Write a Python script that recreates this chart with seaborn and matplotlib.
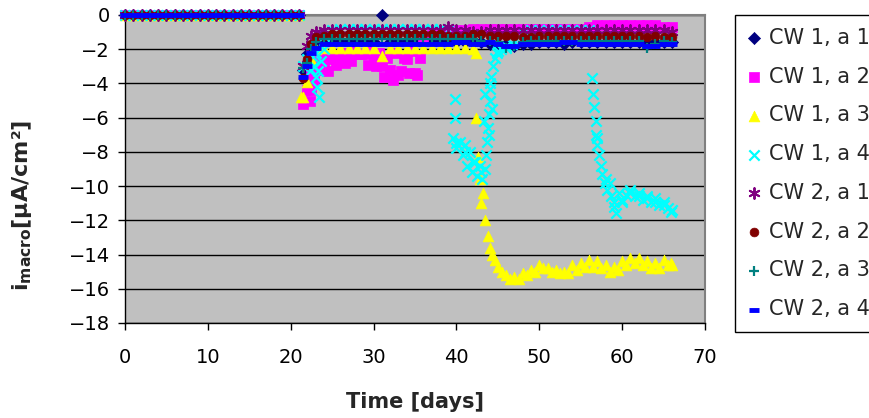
import matplotlib
matplotlib.use("Agg")
import matplotlib.pyplot as plt
import pandas as pd
import seaborn as sns


# Measurement grid (days) - before day 21.5 every cell read 0
baseline_days = list(range(0, 22))
baseline_vals = [0.0, 0.0, 0.0, 0.0, 0.0, 0.0, 0.0, 0.0, 0.0, 0.0, 0.0,
                 0.0, 0.0, 0.0, 0.0, 0.0, 0.0, 0.0, 0.0, 0.0, 0.0, 0.0]
days = [21.5, 22, 22.5] + list(range(23, 67))

# macrocell current density [uA/cm2] on the grid above
cw1_a1 = [-3.2, -2.3, -1.9, -1.7, -1.6, -1.6, -1.5, -1.6, -1.6, -1.5,
          -1.6, 0.0, -1.6, -1.6, -1.5, -1.6, -1.6, -1.6, -1.5, -1.6,
          -1.6, -1.6, -1.6, -1.6, -1.7, -1.7, -1.7, -1.8, -1.7, -1.7,
          -1.6, -1.6, -1.6, -1.7, -1.6, -1.6, -1.6, -1.6, -1.6, -1.6,
          -1.6, -1.6, -1.6, -1.7, -1.6, -1.6, -1.6]
cw1_a2 = [-5.2, -4.4, -3.4, -2.6, -2.9, -2.6, -2.4, -2.5, -2.3, -2.3,
          -2.6, -3.0, -3.2, -3.5, -2.6, -3.4, -1.3, -1.1, -1.0, -0.9,
          -0.9, -0.9, -0.8, -0.8, -0.8, -0.8, -0.8, -0.8, -0.8, -0.8,
          -0.8, -0.8, -0.8, -0.8, -0.8, -0.8, -0.7, -0.6, -0.6, -0.6,
          -0.6, -0.6, -0.6, -0.6, -0.6, -0.7, -0.7]
cw1_a3 = [-4.8, -3.9, -2.6, -2.0, -1.9, -1.9, -1.9, -1.9, -1.9, -1.9,
          -1.9, -2.4, -1.9, -1.9, -1.9, -1.9, -1.9, -1.9, -1.9, -1.9,
          -1.9, -1.9, -2.0, -11.0, -13.6, -14.7, -15.2, -15.3, -15.1, -14.9,
          -14.6, -14.8, -14.9, -15.0, -14.6, -14.5, -14.3, -14.4, -14.6, -14.7,
          -14.4, -14.2, -14.2, -14.4, -14.5, -14.3, -14.6]
cw1_a4 = [-3.0, -2.6, -3.2, -2.2, -1.2, -0.9, -0.8, -0.8, -0.8, -0.8,
          -0.8, -0.8, -0.8, -0.8, -0.8, -0.8, -0.8, -0.8, -0.8, -0.9,
          -7.5, -8.0, -8.6, -9.2, -4.0, -2.1, -1.8, -1.5, -1.0, -0.9,
          -0.9, -0.9, -0.9, -0.9, -0.9, -0.9, -0.9, -7.2, -9.6, -10.9,
          -10.8, -10.4, -10.6, -10.7, -10.9, -11.1, -11.4]
cw2_a1 = [-3.0, -1.8, -1.2, -1.0, -0.9, -0.9, -0.9, -0.9, -0.9, -0.9,
          -0.9, -0.9, -0.9, -0.9, -0.9, -0.9, -0.9, -0.9, -0.9, -0.7,
          -0.9, -0.9, -1.0, -1.0, -0.9, -0.9, -0.9, -0.9, -0.9, -0.9,
          -0.9, -0.9, -0.9, -0.9, -0.9, -0.9, -0.9, -0.9, -0.9, -0.9,
          -0.9, -0.9, -0.9, -0.9, -0.9, -0.9, -1.0]
cw2_a2 = [-3.7, -2.6, -1.7, -1.3, -1.2, -1.1, -1.1, -1.1, -1.1, -1.1,
          -1.1, -1.1, -1.1, -1.1, -1.1, -1.1, -1.1, -1.1, -1.1, -1.2,
          -1.2, -1.2, -1.1, -1.1, -1.2, -1.2, -1.2, -1.2, -1.3, -1.3,
          -1.2, -1.2, -1.2, -1.2, -1.2, -1.2, -1.2, -1.2, -1.2, -1.2,
          -1.2, -1.2, -1.2, -1.3, -1.2, -1.3, -1.3]
cw2_a3 = [-3.1, -2.8, -2.0, -1.6, -1.4, -1.4, -1.4, -1.4, -1.4, -1.4,
          -1.4, -1.4, -1.4, -1.4, -1.4, -1.4, -1.4, -1.4, -1.4, -1.4,
          -1.4, -1.4, -1.4, -1.5, -1.5, -1.6, -1.9, -1.8, -1.6, -1.5,
          -1.5, -1.5, -1.5, -1.5, -1.5, -1.5, -1.5, -1.5, -1.5, -1.5,
          -1.5, -1.5, -1.5, -1.9, -1.7, -1.5, -1.6]
cw2_a4 = [-3.6, -3.0, -2.2, -1.9, -1.7, -1.7, -1.7, -1.7, -1.7, -1.7,
          -1.7, -1.7, -1.7, -1.7, -1.7, -1.7, -1.7, -1.7, -1.7, -1.7,
          -1.6, -1.6, -1.7, -1.7, -1.6, -1.7, -1.8, -1.8, -1.7, -1.7,
          -1.7, -1.7, -1.7, -1.6, -1.6, -1.7, -1.7, -1.7, -1.7, -1.7,
          -1.7, -1.7, -1.7, -1.8, -1.8, -1.7, -1.7]

# extra readings where the sensors were measured more often
cw1_a2_xdays = [22.3, 22.5, 22.8, 23.3, 23.5, 24.5, 24.8, 25.5, 26.2, 26.5,
                27.3, 27.6, 28.5, 29.3, 29.6, 30.3, 30.7, 31.3, 31.6, 32.3,
                32.6, 33.3, 33.7, 34.3, 34.6, 35.3, 35.6]
cw1_a2_xvals = [-5.0, -4.4, -3.8, -3.2, -2.4, -3.3, -2.5, -2.9, -2.2, -2.8,
                -2.7, -2.1, -2.3, -2.9, -2.1, -3.0, -2.2, -3.6, -2.5, -3.8,
                -2.2, -3.3, -2.5, -3.4, -2.1, -3.5, -2.5]
cw1_a3_xdays = [21.3, 42.4, 42.4, 42.6, 42.8, 43.2, 43.5, 43.8, 44.3, 44.6,
                45.5, 46.5, 47.5, 48.5, 49.5, 50.5, 51.5, 52.5, 53.5, 54.5,
                55.5, 56.5, 57.5, 58.5, 59.5, 60.5, 61.5, 62.5, 63.5, 64.5,
                65.5, 65.9]
cw1_a3_xvals = [-4.8, -2.2, -6.0, -8.3, -9.6, -10.4, -12.0, -12.9, -14.0, -14.3,
                -15.0, -15.4, -15.4, -15.2, -15.0, -14.8, -15.0, -15.1, -15.1, -14.9,
                -14.7, -14.7, -14.8, -15.0, -14.9, -14.6, -14.5, -14.6, -14.8, -14.8,
                -14.6, -14.5]
cw1_a4_xdays = [22.6, 22.8, 23.0, 23.2, 23.4, 23.3, 23.6, 24.0,
                39.8, 39.8, 39.6, 40.0, 40.4, 40.8, 41.0, 41.3, 41.6, 41.9,
                42.2, 42.5, 42.8, 43.1, 43.4, 43.6, 43.7, 43.8, 43.9, 44.0,
                44.1, 44.2, 44.4, 44.6, 44.9, 45.4, 46.0, 46.7, 43.3, 43.5,
                43.9, 44.3,
                56.4, 56.5, 56.6, 56.8, 56.9, 57.0, 57.2, 57.4, 57.6, 57.9,
                58.2, 58.5, 58.7, 59.0, 59.3, 59.6, 60.0, 60.5, 61.0, 61.5,
                62.0, 62.5, 63.0, 63.5, 64.0, 64.5, 65.0, 65.5, 65.9]
cw1_a4_xvals = [-2.4, -3.0, -3.6, -4.2, -4.8, -3.3, -2.7, -2.0,
                -4.9, -6.0, -7.2, -7.8, -7.4, -8.2, -7.6, -8.8, -8.0, -9.2,
                -8.6, -9.4, -8.8, -9.6, -9.0, -8.2, -7.4, -6.6, -5.8, -5.0,
                -4.3, -3.6, -3.0, -2.5, -2.2, -2.0, -1.9, -1.7, -6.2, -4.6,
                -7.0, -5.5,
                -3.7, -4.6, -5.4, -6.2, -7.0, -7.6, -8.2, -8.8, -9.3, -9.8,
                -10.2, -9.8, -10.6, -11.2, -11.6, -10.4, -10.9, -10.5, -10.2, -10.6,
                -10.4, -10.8, -10.6, -10.9, -10.7, -11.1, -10.9, -11.3, -11.5]

series = [
    ("CW 1, a 1", cw1_a1, [], []),
    ("CW 1, a 2", cw1_a2, cw1_a2_xdays, cw1_a2_xvals),
    ("CW 1, a 3", cw1_a3, cw1_a3_xdays, cw1_a3_xvals),
    ("CW 1, a 4", cw1_a4, cw1_a4_xdays, cw1_a4_xvals),
    ("CW 2, a 1", cw2_a1, [], []),
    ("CW 2, a 2", cw2_a2, [], []),
    ("CW 2, a 3", cw2_a3, [], []),
    ("CW 2, a 4", cw2_a4, [], []),
]

# marker look per series (Excel default colours)
styles = {
    "CW 1, a 1": dict(marker="D", color="#000080", s=38, edgecolor="#000080", linewidth=0.5),
    "CW 1, a 2": dict(marker="s", color="#FF00FF", s=42, edgecolor="#FF00FF", linewidth=0.5),
    "CW 1, a 3": dict(marker="^", color="#FFFF00", s=60, edgecolor="#FFFF00", linewidth=0.5),
    "CW 1, a 4": dict(marker="x", color="#00FFFF", s=55, linewidth=1.6),
    "CW 2, a 1": dict(marker=(6, 2, 0), color="#800080", s=60, linewidth=1.4),
    "CW 2, a 2": dict(marker="o", color="#800000", s=40, edgecolor="#800000", linewidth=0.5),
    "CW 2, a 3": dict(marker="+", color="#008080", s=60, linewidth=1.6),
    "CW 2, a 4": dict(marker="_", color="#0000FF", s=45, linewidth=3.5),
}

frames = []
for name, vals, xd, xv in series:
    frames.append(pd.DataFrame({"day": baseline_days + days + xd,
                                "value": baseline_vals + vals + xv,
                                "series": name}))
df = pd.concat(frames, ignore_index=True)

sns.set_theme(style="white")
plt.rcParams["font.family"] = ["DejaVu Sans"]

fig = plt.figure(figsize=(8.7, 4.18), dpi=100)
ax = fig.add_axes([125 / 870, 1 - 323 / 418, 580 / 870, 308 / 418])
ax.set_facecolor("#C0C0C0")

for i, (name, _, _, _) in enumerate(series):
    sns.scatterplot(data=df[df["series"] == name], x="day", y="value", ax=ax,
                    label=name, clip_on=False, zorder=3 + i, **styles[name])

ax.set_xlim(0, 70)
ax.set_ylim(-18, 0)
ax.set_xticks(range(0, 71, 10))
ax.set_yticks(range(-18, 1, 2))
ax.yaxis.grid(True, color="black", linewidth=1)
ax.xaxis.grid(False)
ax.set_axisbelow(True)
ax.tick_params(bottom=True, left=True, direction="out", length=5, width=1,
               colors="black", labelsize=14)
ax.tick_params(axis="x", pad=13)
ax.tick_params(axis="y", pad=6)
ax.set_xlabel("")
ax.set_ylabel("")

for side in ["left", "bottom"]:
    ax.spines[side].set_color("black")
    ax.spines[side].set_linewidth(1)
for side in ["top", "right"]:
    ax.spines[side].set_color("#808080")
    ax.spines[side].set_linewidth(1.5)

fig.text(415 / 870, 1 - 402 / 418, "Time [days]", ha="center", va="center",
         fontsize=15, fontweight="bold")
fig.text(22 / 870, 1 - 205 / 418, r"$\mathbf{i}_{\mathbf{macro}}$[µA/cm²]",
         ha="center", va="center", rotation=90, fontsize=16, fontweight="bold")

leg = ax.legend(loc="upper left", bbox_to_anchor=(735 / 870, 1 - 15 / 418),
                bbox_transform=fig.transFigure, fontsize=15, frameon=True,
                fancybox=False, framealpha=1, edgecolor="black",
                borderaxespad=0, borderpad=0.62, labelspacing=0.9,
                handlelength=0.6, handletextpad=0.4, scatterpoints=1)
leg.get_frame().set_linewidth(1)

fig.savefig("out.png", dpi=100)
